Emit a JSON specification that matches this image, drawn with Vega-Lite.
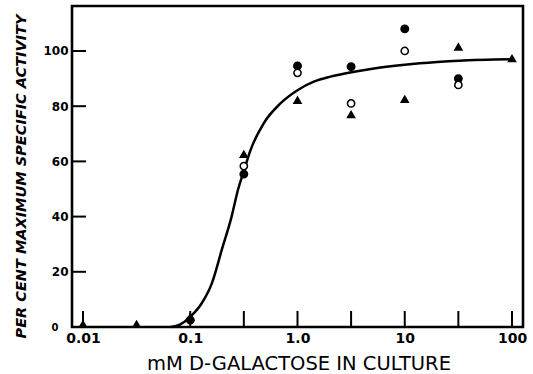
{
  "$schema": "https://vega.github.io/schema/vega-lite/v6.json",
  "width": 451,
  "height": 321,
  "autosize": {"type": "none"},
  "padding": {"left": 72, "top": 6, "right": 10, "bottom": 47},
  "background": "white",
  "config": {
    "view": {"stroke": "black", "strokeWidth": 2.6},
    "axis": {"grid": false, "domain": false, "ticks": false, "labelColor": "black", "titleColor": "black"}
  },
  "datasets": {
    "curve": [
      {"c": 0.066, "pct": 0},
      {"c": 0.08, "pct": 0.9},
      {"c": 0.1, "pct": 3.7},
      {"c": 0.128, "pct": 8.6},
      {"c": 0.159, "pct": 15.8},
      {"c": 0.197, "pct": 28},
      {"c": 0.243, "pct": 40},
      {"c": 0.28, "pct": 50},
      {"c": 0.316, "pct": 56.5},
      {"c": 0.364, "pct": 64},
      {"c": 0.484, "pct": 73.8},
      {"c": 0.693, "pct": 81},
      {"c": 1.0, "pct": 85.8},
      {"c": 1.42, "pct": 88.9},
      {"c": 2.03, "pct": 90.7},
      {"c": 2.91, "pct": 92},
      {"c": 5.0, "pct": 93.6},
      {"c": 10.0, "pct": 95},
      {"c": 20.0, "pct": 96},
      {"c": 32.0, "pct": 96.5},
      {"c": 100.0, "pct": 97}
    ],
    "points": [
      {"c": 0.1, "pct": 2.5, "s": "filled"},
      {"c": 0.316, "pct": 55.4, "s": "filled"},
      {"c": 1.0, "pct": 94.6, "s": "filled"},
      {"c": 3.16, "pct": 94.3, "s": "filled"},
      {"c": 10.0, "pct": 108, "s": "filled"},
      {"c": 31.6, "pct": 90, "s": "filled"},
      {"c": 0.316, "pct": 58.3, "s": "open"},
      {"c": 1.0, "pct": 92.1, "s": "open"},
      {"c": 3.16, "pct": 81, "s": "open"},
      {"c": 10.0, "pct": 100, "s": "open"},
      {"c": 31.6, "pct": 87.7, "s": "open"},
      {"c": 0.01, "pct": 1, "s": "triangle"},
      {"c": 0.0316, "pct": 1, "s": "triangle"},
      {"c": 0.1, "pct": 3.6, "s": "triangle"},
      {"c": 0.316, "pct": 62.6, "s": "triangle"},
      {"c": 1.0, "pct": 82.2, "s": "triangle"},
      {"c": 3.16, "pct": 77, "s": "triangle"},
      {"c": 10.0, "pct": 82.5, "s": "triangle"},
      {"c": 31.6, "pct": 101.5, "s": "triangle"},
      {"c": 100.0, "pct": 97.3, "s": "triangle"}
    ]
  },
  "layer": [
    {
      "data": {"name": "curve"},
      "mark": {"type": "line", "color": "black", "strokeWidth": 2.5, "interpolate": "monotone"},
      "encoding": {
        "x": {
          "field": "c", "type": "quantitative",
          "scale": {"type": "log", "domain": [0.0079, 126.6], "nice": false, "zero": false},
          "axis": {
            "values": [0.01, 0.1, 1, 10, 100],
            "labelExpr": "datum.value == 0.01 ? '0.01' : datum.value == 0.1 ? '0.1' : datum.value == 1 ? '1.0' : datum.value == 10 ? '10' : datum.value == 100 ? '100' : ''",
            "labelPadding": 4,
            "labelFont": "DejaVu Sans", "labelFontWeight": "bold", "labelFontSize": 14,
            "labelFlush": false, "labelOverlap": false,
            "title": "mM D-GALACTOSE IN CULTURE",
            "titleFont": "DejaVu Sans", "titleFontWeight": "normal", "titleFontSize": 19.5,
            "titleX": 226.5, "titleY": 42, "titleBaseline": "alphabetic", "titleAnchor": "middle"
          }
        },
        "y": {
          "field": "pct", "type": "quantitative",
          "scale": {"domain": [0, 116.3], "nice": false, "zero": true},
          "axis": {
            "values": [0, 20, 40, 60, 80, 100],
            "labelPadding": {"condition": {"test": "datum.value == 0", "value": 14}, "value": 4},
            "labelFont": "DejaVu Sans", "labelFontWeight": "bold",
            "labelFontSize": {"condition": {"test": "datum.value == 0", "value": 10}, "value": 12},
            "labelOverlap": false,
            "title": "PER CENT MAXIMUM SPECIFIC ACTIVITY",
            "titleFont": "DejaVu Sans", "titleFontWeight": "bold", "titleFontStyle": "italic", "titleFontSize": 14.5,
            "titleX": -47, "titleY": 170, "titleBaseline": "alphabetic", "titleAngle": -90, "titleAnchor": "middle"
          }
        }
      }
    },
    {
      "data": {"values": [
        {"c": 0.01, "pct": 0}, {"c": 0.1, "pct": 0}, {"c": 0.316, "pct": 0}, {"c": 1, "pct": 0}, {"c": 3.16, "pct": 0}, {"c": 10, "pct": 0}, {"c": 31.6, "pct": 0}, {"c": 100, "pct": 0}
      ]},
      "mark": {"type": "tick", "color": "black", "orient": "vertical", "size": 16, "thickness": 2, "opacity": 1, "yOffset": -8},
      "encoding": {
        "x": {"field": "c", "type": "quantitative"},
        "y": {"field": "pct", "type": "quantitative"}
      }
    },
    {
      "data": {"values": [
        {"c": 0.0079, "pct": 20}, {"c": 0.0079, "pct": 40}, {"c": 0.0079, "pct": 60}, {"c": 0.0079, "pct": 80}, {"c": 0.0079, "pct": 100}
      ]},
      "mark": {"type": "tick", "color": "black", "orient": "horizontal", "size": 14, "thickness": 2, "opacity": 1, "xOffset": 7},
      "encoding": {
        "x": {"field": "c", "type": "quantitative"},
        "y": {"field": "pct", "type": "quantitative"}
      }
    },
    {
      "data": {"name": "points"},
      "mark": {"type": "point", "filled": true, "stroke": "black", "strokeWidth": 1.5, "opacity": 1},
      "encoding": {
        "x": {"field": "c", "type": "quantitative"},
        "y": {"field": "pct", "type": "quantitative"},
        "shape": {"field": "s", "type": "nominal", "scale": {"domain": ["filled", "open", "triangle"], "range": ["circle", "circle", "triangle-up"]}, "legend": null},
        "fill": {"field": "s", "type": "nominal", "scale": {"domain": ["filled", "open", "triangle"], "range": ["black", "white", "black"]}, "legend": null},
        "size": {"field": "s", "type": "nominal", "scale": {"domain": ["filled", "open", "triangle"], "range": [55, 50, 80]}, "legend": null}
      }
    }
  ]
}
